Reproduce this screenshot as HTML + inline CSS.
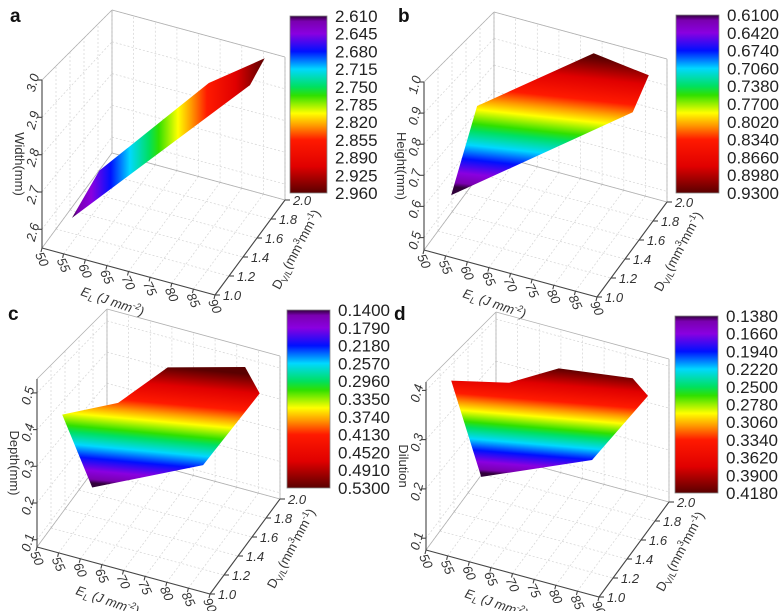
<!DOCTYPE html>
<html><head><meta charset="utf-8"><style>
html,body{margin:0;padding:0;background:#fff}
svg{display:block;font-family:"Liberation Sans",sans-serif}
</style></head><body>
<svg id="fig" width="782" height="611" viewBox="0 0 782 611" xmlns="http://www.w3.org/2000/svg">
<defs>
<linearGradient id="cbar" x1="0" y1="0" x2="0" y2="1">
<stop offset="0" stop-color="#30003a"/><stop offset="0.03" stop-color="#7a00b0"/><stop offset="0.1" stop-color="#8a00e0"/>
<stop offset="0.2" stop-color="#0010ff"/><stop offset="0.3" stop-color="#00d8ff"/><stop offset="0.4" stop-color="#00e060"/>
<stop offset="0.45" stop-color="#30e000"/><stop offset="0.55" stop-color="#ffff00"/><stop offset="0.62" stop-color="#ff9900"/>
<stop offset="0.7" stop-color="#ff1a00"/><stop offset="0.85" stop-color="#e00000"/><stop offset="1" stop-color="#5a0000"/>
</linearGradient>
<linearGradient id="surfH" href="#cbar" x1="0" y1="0" x2="1" y2="0"/>
<linearGradient id="surfV" href="#cbar" x1="0.4" y1="1" x2="0.55" y2="0"/>
</defs>
</svg>
<script>
const eTicks=[50,55,60,65,70,75,80,85,90];
const dTicks=[1.0,1.2,1.4,1.6,1.8,2.0];
const zTicksA=[2.6,2.7,2.8,2.9,3.0];
const zTicksB=[0.5,0.6,0.7,0.8,0.9,1.0];
const zTicksC=[0.1,0.2,0.3,0.4,0.5];
const zTicksD=[0.1,0.2,0.3,0.4];
const cbarA=["2.610","2.645","2.680","2.715","2.750","2.785","2.820","2.855","2.890","2.925","2.960"];
const cbarB=["0.6100","0.6420","0.6740","0.7060","0.7380","0.7700","0.8020","0.8340","0.8660","0.8980","0.9300"];
const cbarC=["0.1400","0.1790","0.2180","0.2570","0.2960","0.3350","0.3740","0.4130","0.4520","0.4910","0.5300"];
const cbarD=["0.1380","0.1660","0.1940","0.2220","0.2500","0.2780","0.3060","0.3340","0.3620","0.3900","0.4180"];
const surfAE=[55,55,80,90,90], surfAD=[1.12,1.51,1.53,1.71,1.5], surfAZ=[2.617,2.651,2.986,3.057,3.02];
const surfBE=[55,55,75,90,90], surfBD=[1.08,1.45,1.88,1.74,1.51], surfBZ=[0.633,0.829,0.987,1.007,0.934];
const surfCE=[50,60,65,85,90,85,55], surfCD=[1.36,1.54,1.94,1.81,1.71,1.21,1.48], surfCZ=[0.363,0.39,0.422,0.527,0.486,0.37,0.138];
const surfDE=[50,60,65,85,90,85,55], surfDD=[1.36,1.57,1.97,1.79,1.70,1.21,1.48], surfDZ=[0.366,0.353,0.330,0.393,0.381,0.309,0.149];

const NS="http://www.w3.org/2000/svg";
const svg=document.getElementById('fig');
function mk(tag,attrs,parent,text){const el=document.createElementNS(NS,tag);for(const k in attrs)el.setAttribute(k,attrs[k]);if(text!==undefined)el.textContent=text;(parent||svg).appendChild(el);return el;}

const panels=[
 {id:'a',ox:2,oy:0,zmin:2.55,zmax:3.0,zt:zTicksA,zfmt:1,cb:cbarA,cx:290,cy:16,cw:37,ch:177,lx:10,ly:22,title:'Width(mm)',sE:surfAE,sD:surfAD,sZ:surfAZ,grad:'surfH'},
 {id:'b',ox:384,oy:2,zmin:0.46,zmax:1.0,zt:zTicksB,zfmt:1,cb:cbarB,cx:676,cy:15,cw:43,ch:178,lx:398,ly:22,title:'Height(mm)',sE:surfBE,sD:surfBD,sZ:surfBZ,grad:'surfV'},
 {id:'c',ox:-3,oy:299,zmin:0.08,zmax:0.538,zt:zTicksC,zfmt:1,cb:cbarC,cx:287,cy:310,cw:43,ch:178,lx:8,ly:320,title:'Depth(mm)',sE:surfCE,sD:surfCD,sZ:surfCZ,grad:'surfV'},
 {id:'d',ox:386,oy:302,zmin:0.076,zmax:0.417,zt:zTicksD,zfmt:1,cb:cbarD,cx:675,cy:316,cw:43,ch:177,lx:394,ly:320,title:'Dilution',sE:surfDE,sD:surfDD,sZ:surfDZ,grad:'surfV'}
];

function proj(p,e,d,z){const ep=(e-50)/40,dp=d-1,zp=(z-p.zmin)/(p.zmax-p.zmin);
 return [p.ox+40+173*ep+70*dp, p.oy+248+47*ep-95*dp-(168-25*dp)*zp];}

panels.forEach(p=>{
 const g=mk('g',{});
 
 
 const grid=mk('g',{stroke:'#d4d4d4','stroke-width':0.7,'stroke-dasharray':'2,2',fill:'none'},g);
 
 
 function line(a,b,par,attrs){mk('line',Object.assign({x1:a[0].toFixed(1),y1:a[1].toFixed(1),x2:b[0].toFixed(1),y2:b[1].toFixed(1)},attrs||{}),par);}
 const zlo=p.zmin,zhi=p.zmax;
 eTicks.forEach(e=>{line(proj(p,e,2,zlo),proj(p,e,2,zhi),grid);line(proj(p,e,1,zlo),proj(p,e,2,zlo),grid);});
 dTicks.forEach(d=>{line(proj(p,50,d,zlo),proj(p,50,d,zhi),grid);line(proj(p,50,d,zlo),proj(p,90,d,zlo),grid);});
 p.zt.forEach(z=>{line(proj(p,50,1,z),proj(p,50,2,z),grid);line(proj(p,50,2,z),proj(p,90,2,z),grid);});
 const box=mk('g',{stroke:'#b0b0b0','stroke-width':0.8,fill:'none'},g);
 
 
 line(proj(p,50,1,zhi),proj(p,50,2,zhi),box);line(proj(p,50,2,zhi),proj(p,90,2,zhi),box);
 line(proj(p,90,2,zhi),proj(p,90,2,zlo),box);line(proj(p,50,2,zlo),proj(p,50,2,zhi),box);
 line(proj(p,50,2,zlo),proj(p,50,1,zlo),box);line(proj(p,50,2,zlo),proj(p,90,2,zlo),box);
 const pts=p.sE.map((e,i)=>proj(p,e,p.sD[i],p.sZ[i]).map(v=>v.toFixed(1)).join(',')).join(' ');
 const s=mk('polygon',{points:pts,fill:'url(#'+p.grad+')',stroke:'none'},g);
 
 
 const ax=mk('g',{stroke:'#444','stroke-width':1.1,fill:'none'},g);
 
 
 line(proj(p,50,1,zlo),proj(p,50,1,zhi),ax);
 line(proj(p,50,1,zlo),proj(p,90,1,zlo),ax);
 line(proj(p,90,1,zlo),proj(p,90,2,zlo),ax);
 const tx=mk('g',{fill:'#333','font-size':13,'font-style':'italic'},g);
 
 
 eTicks.forEach(e=>{const q=proj(p,e,1,zlo);line(q,[q[0]-1,q[1]+4],ax);
  const t=mk('text',{x:0,y:0,transform:`translate(${(q[0]-4).toFixed(1)},${(q[1]+5).toFixed(1)}) rotate(65)`,'dominant-baseline':'middle'},tx,String(e));
  
  });
 dTicks.forEach(d=>{const q=proj(p,90,d,zlo);line(q,[q[0]+5,q[1]],ax);
  const t=mk('text',{x:(q[0]+8).toFixed(1),y:(q[1]+5).toFixed(1)},tx,d.toFixed(1));
  
  });
 p.zt.forEach(z=>{const q=proj(p,50,1,z);line(q,[q[0]-4,q[1]],ax);
  const t=mk('text',{x:0,y:0,transform:`translate(${(q[0]-5).toFixed(1)},${(q[1]+4).toFixed(1)}) rotate(-75)`,'text-anchor':'middle'},tx,z.toFixed(p.zfmt));
  
  });
 const o=proj(p,50,1,zlo);
 const et=mk('text',{x:0,y:0,transform:`translate(${o[0]+38},${o[1]+47}) rotate(19)`,'font-size':13,'font-style':'italic',fill:'#333'},g);
 
 
 et.innerHTML='E<tspan font-size="9" dy="3">L</tspan><tspan dy="-3"> (J mm</tspan><tspan font-size="9" dy="-5">-2</tspan><tspan dy="5">)</tspan>';
 const r=proj(p,90,1.5,zlo);
 const dt=mk('text',{x:0,y:0,transform:`translate(${r[0]+50},${r[1]+4}) rotate(-62)`,'font-size':13,fill:'#333','text-anchor':'middle'},g);
 
 
 dt.innerHTML='D<tspan font-size="9" dy="3">V/L</tspan><tspan dy="-3">(mm</tspan><tspan font-size="9" dy="-5">3</tspan><tspan dy="5">mm</tspan><tspan font-size="9" dy="-5">-1</tspan><tspan dy="5">)</tspan>';
 const zm=proj(p,50,1,(zlo+zhi)/2);
 const zt=mk('text',{x:0,y:0,transform:`translate(${zm[0]-27},${zm[1]}) rotate(90)`,'font-size':13,fill:'#333','text-anchor':'middle'},g,p.title);
 
 
 const cb=mk('rect',{x:p.cx,y:p.cy,width:p.cw,height:p.ch,fill:'url(#cbar)',stroke:'#888','stroke-width':0.8},g);
 
 
 p.cb.forEach((lab,i)=>{const t=mk('text',{x:p.cx+p.cw+8,y:(p.cy+i*p.ch/(p.cb.length-1)+6).toFixed(1),'font-size':17,fill:'#222'},g,lab);
  
  });
 const L=mk('text',{x:p.lx,y:p.ly,'font-size':19,'font-weight':'bold',fill:'#111'},g,p.id);
 
 
});
</script>
</body></html>
